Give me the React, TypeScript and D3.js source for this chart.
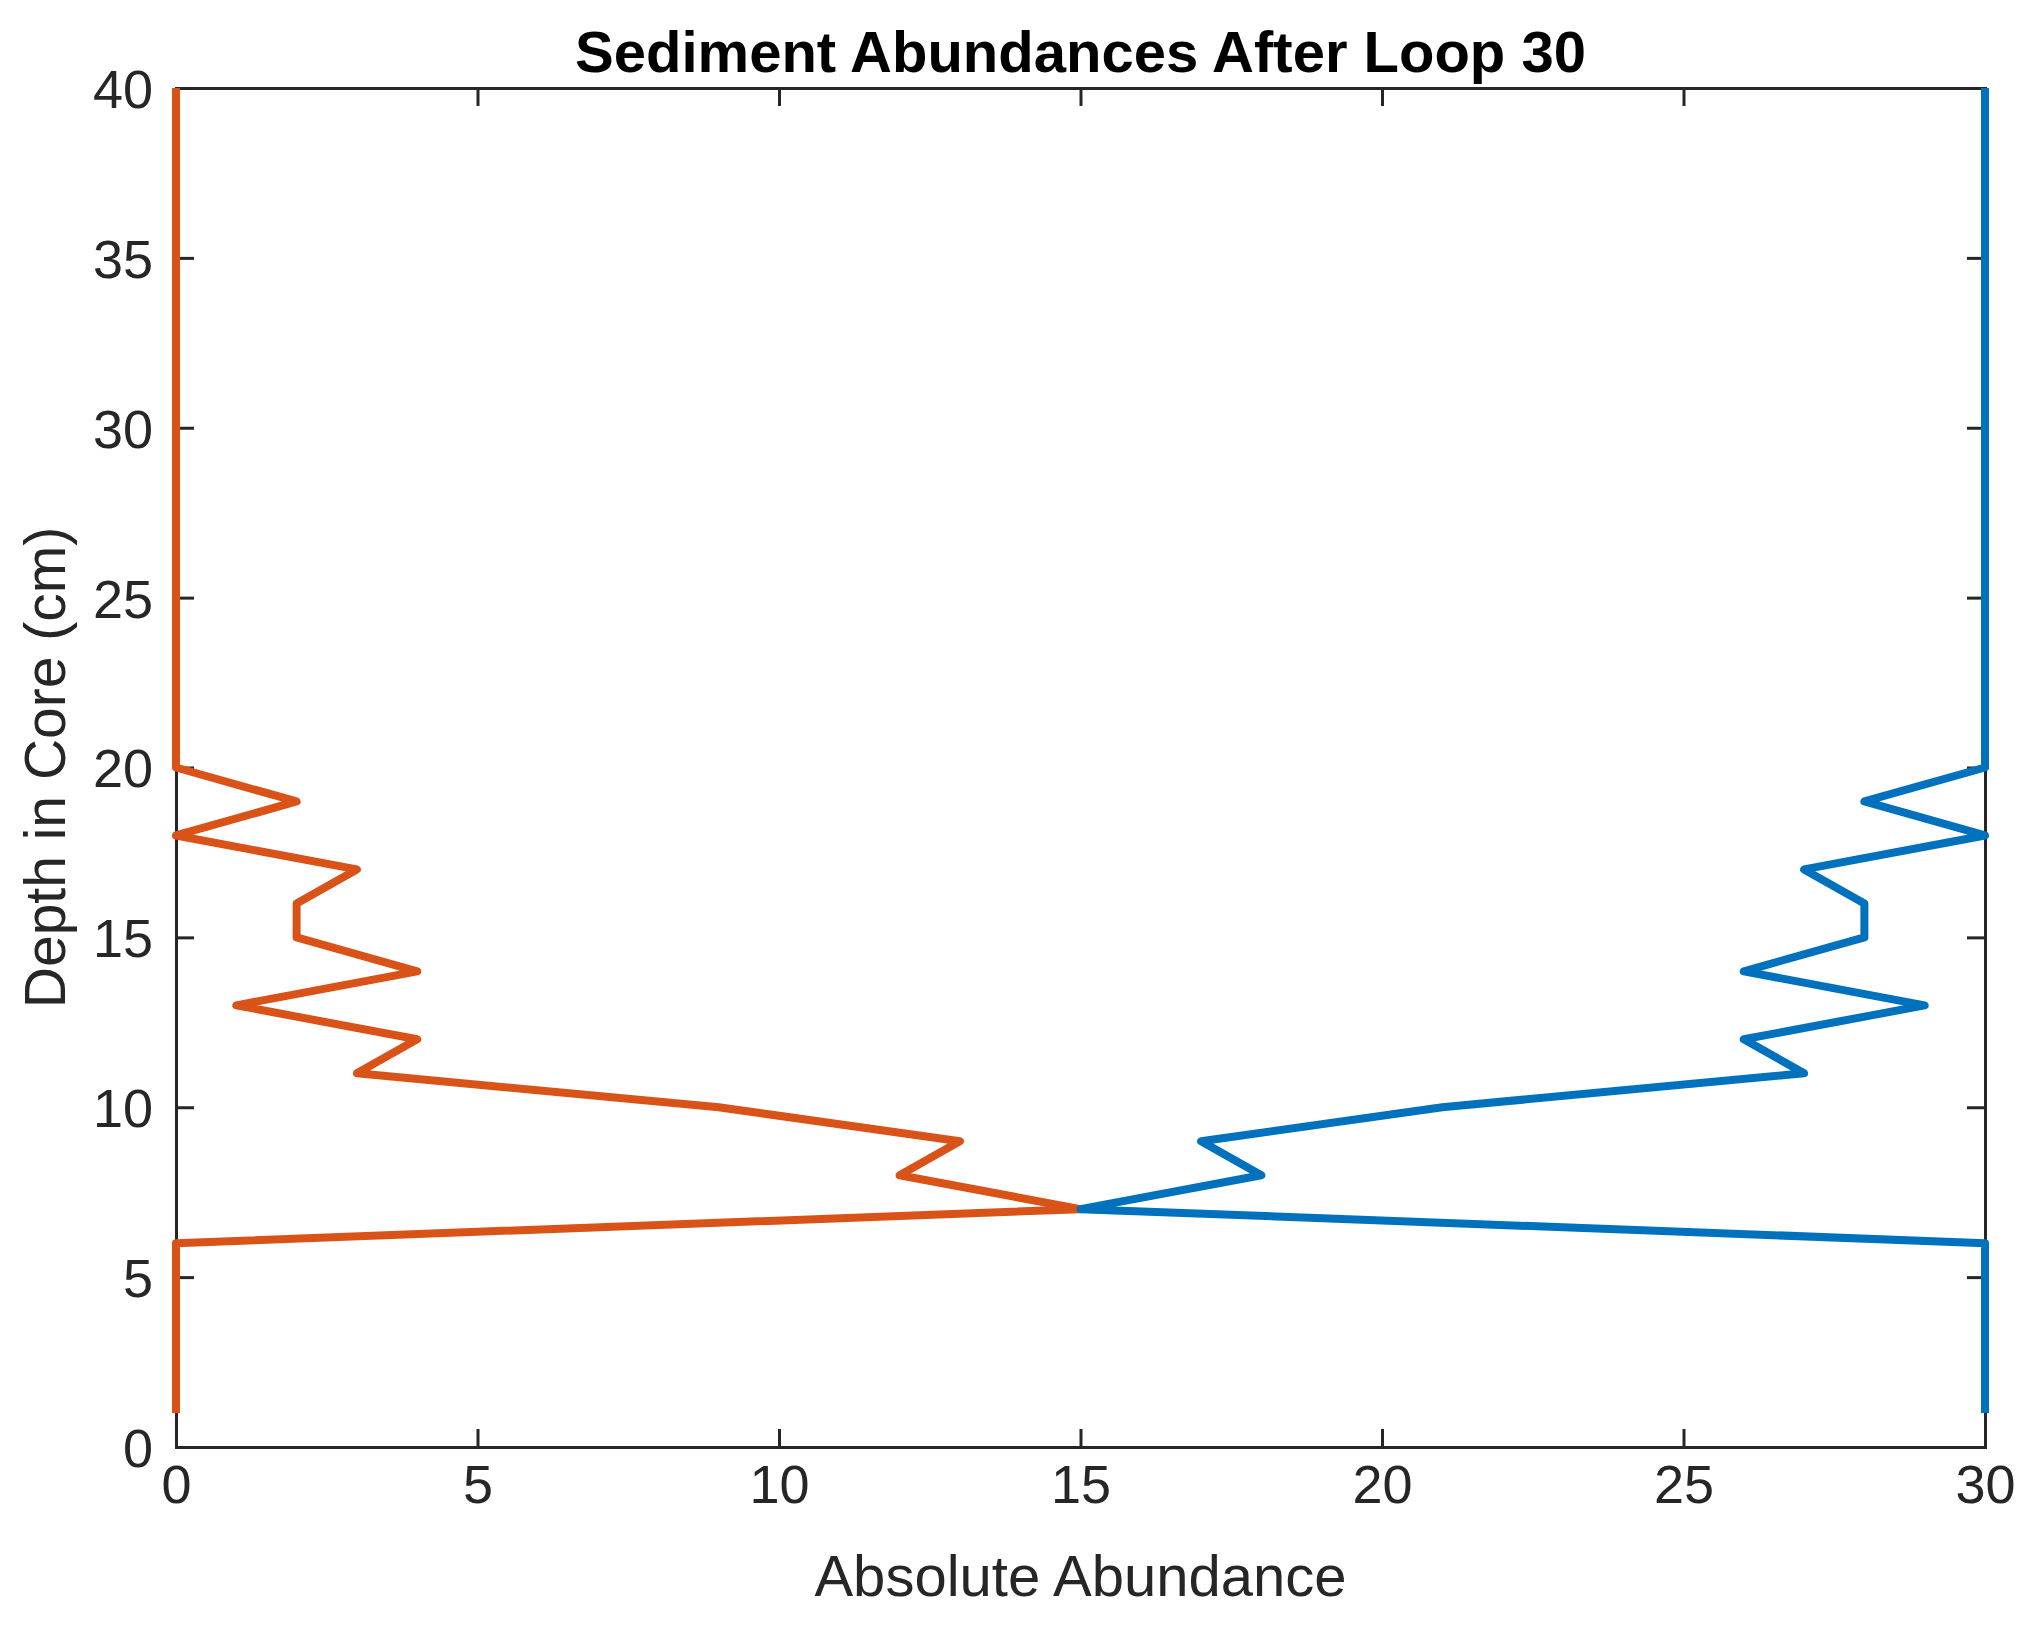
import React, { useEffect, useRef } from 'react';
import * as d3 from 'd3';

// depth in core (cm), one sample per cm
const depths: number[] = [
  1, 2, 3, 4, 5, 6, 7, 8, 9, 10, 11, 12, 13, 14, 15, 16, 17, 18, 19, 20,
  21, 22, 23, 24, 25, 26, 27, 28, 29, 30, 31, 32, 33, 34, 35, 36, 37, 38, 39, 40,
];
const orangeAbundance: number[] = [
  0, 0, 0, 0, 0, 0, 15, 12, 13, 9, 3, 4, 1, 4, 2, 2, 3, 0, 2, 0,
  0, 0, 0, 0, 0, 0, 0, 0, 0, 0, 0, 0, 0, 0, 0, 0, 0, 0, 0, 0,
];
const blueAbundance: number[] = [
  30, 30, 30, 30, 30, 30, 15, 18, 17, 21, 27, 26, 29, 26, 28, 28, 27, 30, 28, 30,
  30, 30, 30, 30, 30, 30, 30, 30, 30, 30, 30, 30, 30, 30, 30, 30, 30, 30, 30, 30,
];
const xTicks: number[] = [0, 5, 10, 15, 20, 25, 30];
const yTicks: number[] = [0, 5, 10, 15, 20, 25, 30, 35, 40];

const W = 2041;
const H = 1630;
const FONT = "'Liberation Sans', Arial, Helvetica, sans-serif";
const INK = '#262626';

export default function App() {
  const svgRef = useRef<SVGSVGElement>(null);

  useEffect(() => {
    document.body.style.margin = '0';
    if (!svgRef.current) return;

    const margin = { top: 88, right: W - 1985, bottom: H - 1447, left: 176 };
    const width = W - margin.left - margin.right;
    const height = H - margin.top - margin.bottom;

    const svg = d3.select(svgRef.current);
    svg.selectAll('*').remove();

    svg.append('rect').attr('width', W).attr('height', H).attr('fill', '#fff');

    const g = svg.append('g').attr('transform', `translate(${margin.left},${margin.top})`);

    const x = d3.scaleLinear().domain([0, 30]).range([0, width]);
    const y = d3.scaleLinear().domain([0, 40]).range([height, 0]);

    const tickLen = 18;

    // Axes (MATLAB style: inward ticks on every side, box on)
    const styleAxis = (sel: d3.Selection<SVGGElement, unknown, null, undefined>) => {
      sel.selectAll('path').attr('stroke', INK).attr('stroke-width', 3);
      sel.selectAll('line').attr('stroke', INK).attr('stroke-width', 3);
      sel.selectAll('text')
        .attr('fill', INK)
        .style('font-family', FONT)
        .style('font-size', '54px');
    };

    g.append('g')
      .attr('transform', `translate(0,${height})`)
      .call(d3.axisBottom(x).tickValues(xTicks).tickSize(-tickLen).tickSizeOuter(0).tickPadding(18))
      .call(styleAxis)
      .selectAll('text').attr('dy', '0.71em');

    g.append('g')
      .call(d3.axisTop(x).tickValues(xTicks).tickSize(-tickLen).tickSizeOuter(0).tickFormat(() => ''))
      .call(styleAxis);

    g.append('g')
      .call(d3.axisLeft(y).tickValues(yTicks).tickSize(-tickLen).tickSizeOuter(0).tickPadding(23))
      .call(styleAxis)
      .selectAll('text').attr('dy', '0.36em');

    g.append('g')
      .attr('transform', `translate(${width},0)`)
      .call(d3.axisRight(y).tickValues(yTicks).tickSize(-tickLen).tickSizeOuter(0).tickFormat(() => ''))
      .call(styleAxis);

    svg.selectAll('.domain').attr('stroke-linecap', 'square');

    // Lines
    const line = d3.line<[number, number]>()
      .x((d) => x(d[0]))
      .y((d) => y(d[1]));

    const series = [
      { values: orangeAbundance, color: '#D95319' },
      { values: blueAbundance, color: '#0072BD' },
    ];

    series.forEach((s) => {
      g.append('path')
        .datum(depths.map((dep, i) => [s.values[i], dep] as [number, number]))
        .attr('d', line)
        .attr('fill', 'none')
        .attr('stroke', s.color)
        .attr('stroke-width', 8)
        .attr('stroke-linejoin', 'round');
    });

    // Title and labels
    svg.append('text')
      .attr('x', margin.left + width / 2)
      .attr('y', 72)
      .attr('text-anchor', 'middle')
      .attr('fill', '#000')
      .style('font-family', FONT)
      .style('font-size', '58px')
      .style('font-weight', 'bold')
      .text('Sediment Abundances After Loop 30');

    svg.append('text')
      .attr('x', margin.left + width / 2)
      .attr('y', 1596)
      .attr('text-anchor', 'middle')
      .attr('fill', INK)
      .style('font-family', FONT)
      .style('font-size', '58px')
      .text('Absolute Abundance');

    svg.append('text')
      .attr('transform', `translate(65,${margin.top + height / 2}) rotate(-90)`)
      .attr('text-anchor', 'middle')
      .attr('fill', INK)
      .style('font-family', FONT)
      .style('font-size', '57px')
      .text('Depth in Core (cm)');
  }, []);

  return (
    <svg
      ref={svgRef}
      width={W}
      height={H}
      style={{ display: 'block', position: 'absolute', left: 0, top: 0 }}
    />
  );
}
